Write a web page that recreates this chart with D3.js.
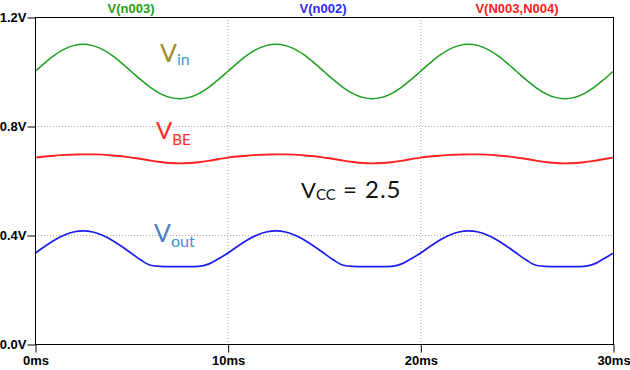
<!DOCTYPE html>
<html>
<head>
<meta charset="utf-8">
<script src="https://cdn.jsdelivr.net/npm/d3@7"></script>
<style>
  body { margin: 0; background: #fff; }
  svg { display: block; }
</style>
</head>
<body>
<div id="chart"></div>
<script>
// time in ms, sampled every 0.5ms
const time = [0,0.5,1,1.5,2,2.5,3,3.5,4,4.5,5,5.5,6,6.5,7,7.5,8,8.5,9,9.5,
  10,10.5,11,11.5,12,12.5,13,13.5,14,14.5,15,15.5,16,16.5,17,17.5,18,18.5,19,19.5,
  20,20.5,21,21.5,22,22.5,23,23.5,24,24.5,25,25.5,26,26.5,27,27.5,28,28.5,29,29.5,30];

// V(n003) - input
const vin = [1.000,1.031,1.059,1.081,1.095,1.100,1.095,1.081,1.059,1.031,1.000,0.969,0.941,0.919,0.905,0.900,0.905,0.919,0.941,0.969,
  1.000,1.031,1.059,1.081,1.095,1.100,1.095,1.081,1.059,1.031,1.000,0.969,0.941,0.919,0.905,0.900,0.905,0.919,0.941,0.969,
  1.000,1.031,1.059,1.081,1.095,1.100,1.095,1.081,1.059,1.031,1.000,0.969,0.941,0.919,0.905,0.900,0.905,0.919,0.941,0.969,1.000];

// V(N003,N004) - base-emitter
const vbe = [0.684,0.688,0.691,0.694,0.695,0.696,0.696,0.695,0.692,0.689,0.684,0.679,0.673,0.668,0.664,0.663,0.664,0.667,0.672,0.678,
  0.684,0.688,0.691,0.694,0.695,0.696,0.696,0.695,0.692,0.689,0.684,0.679,0.673,0.668,0.664,0.663,0.664,0.667,0.672,0.678,
  0.684,0.688,0.691,0.694,0.695,0.696,0.696,0.695,0.692,0.689,0.684,0.679,0.673,0.668,0.664,0.663,0.664,0.667,0.672,0.678,0.684];

// V(n002) - output
const vout = [0.333,0.358,0.381,0.399,0.411,0.415,0.411,0.399,0.381,0.358,0.333,0.308,0.289,0.285,0.284,0.284,0.284,0.285,0.293,0.312,
  0.333,0.358,0.381,0.399,0.411,0.415,0.411,0.399,0.381,0.358,0.333,0.308,0.289,0.285,0.284,0.284,0.284,0.285,0.293,0.312,
  0.333,0.358,0.381,0.399,0.411,0.415,0.411,0.399,0.381,0.358,0.333,0.308,0.289,0.285,0.284,0.284,0.284,0.285,0.293,0.312,0.333];

const xTicks = [0, 10, 20, 30];
const yTicks = [0, 0.4, 0.8, 1.2];
const traceNames = ["V(n003)", "V(n002)", "V(N003,N004)"];

const width = 630, height = 370;
const plot = {left: 35, right: 613, top: 17, bottom: 344};

const svg = d3.select("#chart").append("svg")
    .attr("width", width)
    .attr("height", height);

const x = d3.scaleLinear().domain([0, 30]).range([plot.left, plot.right]);
const y = d3.scaleLinear().domain([0, 1.2]).range([plot.bottom, plot.top]);

// grid lines (dotted)
svg.selectAll(".xgrid")
    .data(xTicks.slice(1, -1))
    .join("line")
    .attr("x1", d => x(d) + 0.5).attr("x2", d => x(d) + 0.5)
    .attr("y1", plot.top).attr("y2", plot.bottom)
    .attr("stroke", "#a8a8a8")
    .attr("stroke-dasharray", "1,2");

svg.selectAll(".ygrid")
    .data(yTicks.slice(1, -1))
    .join("line")
    .attr("x1", plot.left).attr("x2", plot.right)
    .attr("y1", d => y(d) + 0.5).attr("y2", d => y(d) + 0.5)
    .attr("stroke", "#a8a8a8")
    .attr("stroke-dasharray", "1,2");

// traces
const line = d3.line()
    .x((d, i) => x(time[i]))
    .y(d => y(d))
    .curve(d3.curveMonotoneX);

const series = [
  {values: vin, color: "#1e9e1e", w: 1.5},
  {values: vbe, color: "#ff2020", w: 1.9},
  {values: vout, color: "#1c1cf0", w: 1.7}
];

svg.selectAll(".trace")
    .data(series)
    .join("path")
    .attr("fill", "none")
    .attr("stroke", d => d.color)
    .attr("stroke-width", d => d.w)
    .attr("d", d => line(d.values));

// frame
svg.append("rect")
    .attr("x", plot.left + 0.5).attr("y", plot.top + 0.5)
    .attr("width", plot.right - plot.left)
    .attr("height", plot.bottom - plot.top)
    .attr("fill", "none")
    .attr("stroke", "#000");

// axes
const yAxis = d3.axisLeft(y)
    .tickValues(yTicks)
    .tickFormat(d => d.toFixed(1) + "V")
    .tickSizeInner(8).tickSizeOuter(0).tickPadding(1);

const xAxis = d3.axisBottom(x)
    .tickValues(xTicks)
    .tickFormat(d => d + "ms")
    .tickSizeInner(8).tickSizeOuter(0).tickPadding(3);

const gy = svg.append("g")
    .attr("transform", `translate(${plot.left + 0.5},0.5)`)
    .call(yAxis);
const gx = svg.append("g")
    .attr("transform", `translate(0.5,${plot.bottom + 0.5})`)
    .call(xAxis);

[gx, gy].forEach(g => {
  g.select(".domain").remove();
  g.selectAll("line").attr("stroke", "#000");
  g.selectAll("text")
      .attr("fill", "#000")
      .style("font-family", "'Liberation Sans', Arial, sans-serif")
      .style("font-size", "13px")
      .style("font-weight", "bold");
});

// trace names at the top
const nameX = [131, 323, 517];
const nameColor = ["#1e9e1e", "#2a2aff", "#ff2020"];
svg.selectAll(".tname")
    .data(traceNames)
    .join("text")
    .attr("x", (d, i) => nameX[i])
    .attr("y", 13)
    .attr("text-anchor", "middle")
    .attr("fill", (d, i) => nameColor[i])
    .style("font-family", "'Liberation Sans', Arial, sans-serif")
    .style("font-size", "13px")
    .style("font-weight", "bold")
    .text(d => d);

// annotations with subscripts
const notes = [
  {x: 160, y: 62, main: "V", sub: "in", size: 25, subSize: 16, dy: 3, c1: "#a08c2a", c2: "#3b9ac0"},
  {x: 156, y: 139, main: "V", sub: "BE", size: 24, subSize: 15, dy: 6, c1: "#ff2a2a", c2: "#ff2a2a"},
  {x: 154, y: 242, main: "V", sub: "out", size: 25, subSize: 16, dy: 5, c1: "#4a7fc8", c2: "#3f8fe0"},
  {x: 301, y: 198, main: "V", sub: "CC", size: 22, subSize: 15, dy: 2, c1: "#111", c2: "#111", rest: " = 2.5", restSize: 24}
];

notes.forEach(n => {
  const t = svg.append("text")
      .attr("x", n.x).attr("y", n.y)
      .style("font-family", "Lato, 'Open Sans', sans-serif");
  t.append("tspan").attr("fill", n.c1).style("font-size", n.size + "px").text(n.main);
  t.append("tspan").attr("fill", n.c2).attr("dy", n.dy).style("font-size", n.subSize + "px").text(n.sub);
  if (n.rest) {
    t.append("tspan").attr("fill", n.c1).attr("dy", -n.dy).style("font-size", n.restSize + "px")
        .style("white-space", "pre").style("letter-spacing", "1px").text(n.rest);
  }
});
</script>
</body>
</html>
